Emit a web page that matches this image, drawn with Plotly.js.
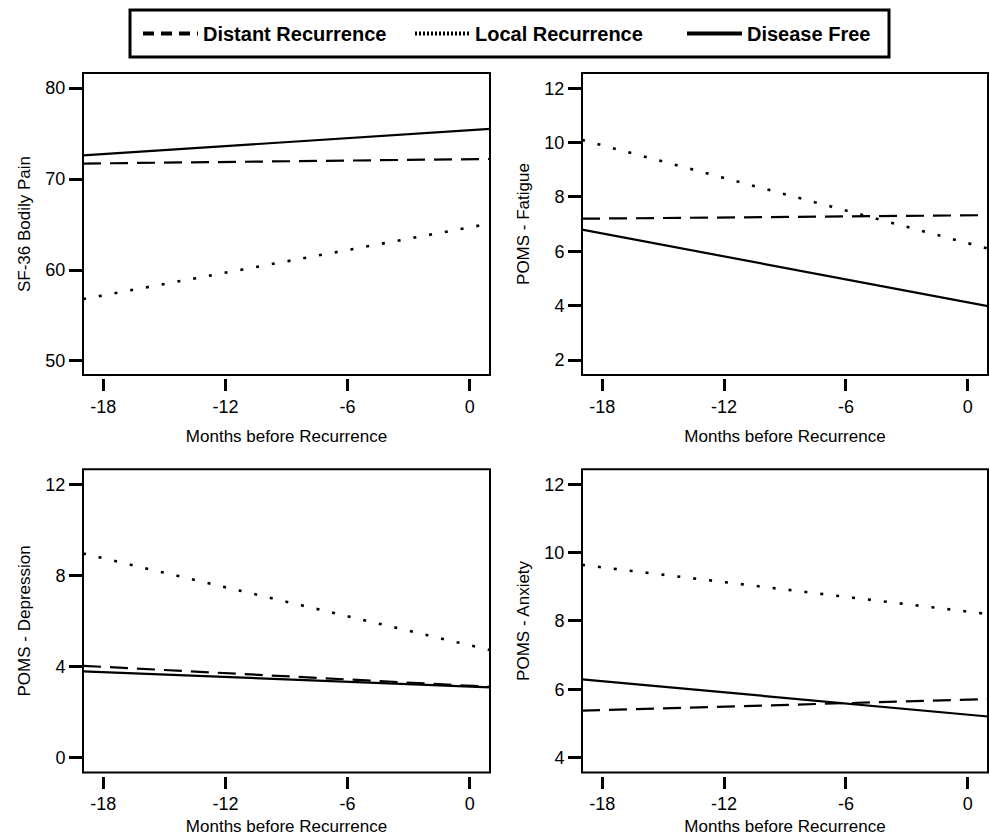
<!DOCTYPE html>
<html>
<head>
<meta charset="utf-8">
<script src="https://cdn.plot.ly/plotly-3.0.1.min.js"></script>
<style>html,body{margin:0;padding:0;background:#fff;}#chart{width:990px;height:836px;}</style>
</head>
<body>
<div id="chart"></div>
<script>
// ---- data ----
const months = [-19, 1];
const seriesNames = ['Distant Recurrence', 'Local Recurrence', 'Disease Free'];

const bodilyPainDistant = [71.7, 72.2];
const bodilyPainLocal   = [56.8, 65.1];
const bodilyPainFree    = [72.6, 75.5];

const fatigueDistant = [7.2, 7.33];
const fatigueLocal   = [10.1, 6.1];
const fatigueFree    = [6.8, 3.98];

const depressionDistant = [4.04, 3.12];
const depressionLocal   = [8.97, 4.73];
const depressionFree    = [3.8, 3.09];

const anxietyDistant = [5.37, 5.71];
const anxietyLocal   = [9.64, 8.2];
const anxietyFree    = [6.29, 5.2];

const panelTitles = ['SF-36 Bodily Pain', 'POMS - Fatigue', 'POMS - Depression', 'POMS - Anxiety'];
const xTickVals = [-18, -12, -6, 0];
const xTitle = 'Months before Recurrence';
const yTicks = [[50, 60, 70, 80], [2, 4, 6, 8, 10, 12], [0, 4, 8, 12], [4, 6, 8, 10, 12]];
const yRanges = [[48.46, 81.65], [1.45, 12.56], [-0.64, 12.66], [3.56, 12.44]];

// ---- styles ----
const dashStyles = ['18px,9px', '3px,13px', 'solid'];
const lineWidths = [2.2, 2.6, 2.2];
const legendDash = ['11px,7px', '2px,2px', 'solid'];
const font = 'Liberation Sans, Arial, sans-serif';

const panels = [
  [bodilyPainDistant, bodilyPainLocal, bodilyPainFree],
  [fatigueDistant, fatigueLocal, fatigueFree],
  [depressionDistant, depressionLocal, depressionFree],
  [anxietyDistant, anxietyLocal, anxietyFree]
];

const traces = [];
panels.forEach((series, p) => {
  const sfx = p === 0 ? '' : String(p + 1);
  series.forEach((vals, s) => {
    traces.push({
      type: 'scatter', mode: 'lines',
      x: months, y: vals,
      xaxis: 'x' + sfx, yaxis: 'y' + sfx,
      name: seriesNames[s], showlegend: false,
      line: {color: '#000', width: lineWidths[s], dash: dashStyles[s]},
      hoverinfo: 'skip'
    });
  });
});
// legend entries (thicker samples)
seriesNames.forEach((n, s) => {
  traces.push({
    type: 'scatter', mode: 'lines', x: [null], y: [null],
    name: n, showlegend: true,
    line: {color: '#000', width: 4, dash: legendDash[s]}
  });
});

const xDom = [[83/990, 490/990], [582/990, 988/990]];
const yDom = [[1 - 375/836, 1 - 73/836], [1 - 772.5/836, 1 - 469.3/836]];
const xPos = [1 - 378/836, 1 - 775.5/836];

const layout = {
  width: 990, height: 836,
  margin: {l: 0, r: 0, t: 0, b: 0},
  paper_bgcolor: '#fff', plot_bgcolor: '#fff',
  font: {family: font, color: '#000', size: 18},
  showlegend: true,
  legend: {
    orientation: 'h', x: 138/990, xanchor: 'left', y: 1 - 33.5/836, yanchor: 'middle',
    font: {family: font, size: 20, color: '#000', weight: 'bold'},
    entrywidth: 202, entrywidthmode: 'pixels', itemwidth: 55,
    borderwidth: 0, bgcolor: 'rgba(0,0,0,0)'
  },
  shapes: [{
    type: 'rect', xref: 'paper', yref: 'paper',
    x0: 130/990, x1: 889/990, y0: 1 - 57/836, y1: 1 - 10/836,
    line: {color: '#000', width: 3}
  }]
};

for (let p = 0; p < 4; p++) {
  const col = p % 2, row = Math.floor(p / 2);
  const sfx = p === 0 ? '' : String(p + 1);
  layout['xaxis' + sfx] = {
    domain: xDom[col], range: [-19, 1], anchor: 'free', position: xPos[row],
    tickvals: xTickVals, ticktext: xTickVals.map(String),
    ticks: 'outside', ticklen: 12, tickwidth: 3, tickcolor: '#000',
    showline: false, showgrid: false, zeroline: false,
    tickfont: {family: font, size: 18, color: '#000'},
    title: {text: xTitle, font: {family: font, size: 17, color: '#000'}, standoff: 14},
    fixedrange: true
  };
  layout['yaxis' + sfx] = {
    domain: yDom[row], range: yRanges[p], anchor: 'x' + sfx,
    tickvals: yTicks[p], ticktext: yTicks[p].map(String),
    ticks: 'outside', ticklen: 13, tickwidth: 3, tickcolor: '#000',
    showline: false, showgrid: false, zeroline: false,
    tickfont: {family: font, size: 18, color: '#000'},
    title: {text: panelTitles[p], font: {family: font, size: 17, color: '#000'}, standoff: 10},
    fixedrange: true
  };
  layout.shapes.push({
    type: 'rect', xref: 'x' + sfx + ' domain', yref: 'y' + sfx + ' domain',
    x0: 0, x1: 1, y0: 0, y1: 1, line: {color: '#000', width: 2}
  });
}

Plotly.newPlot('chart', traces, layout, {displayModeBar: false, staticPlot: true});
</script>
</body>
</html>
